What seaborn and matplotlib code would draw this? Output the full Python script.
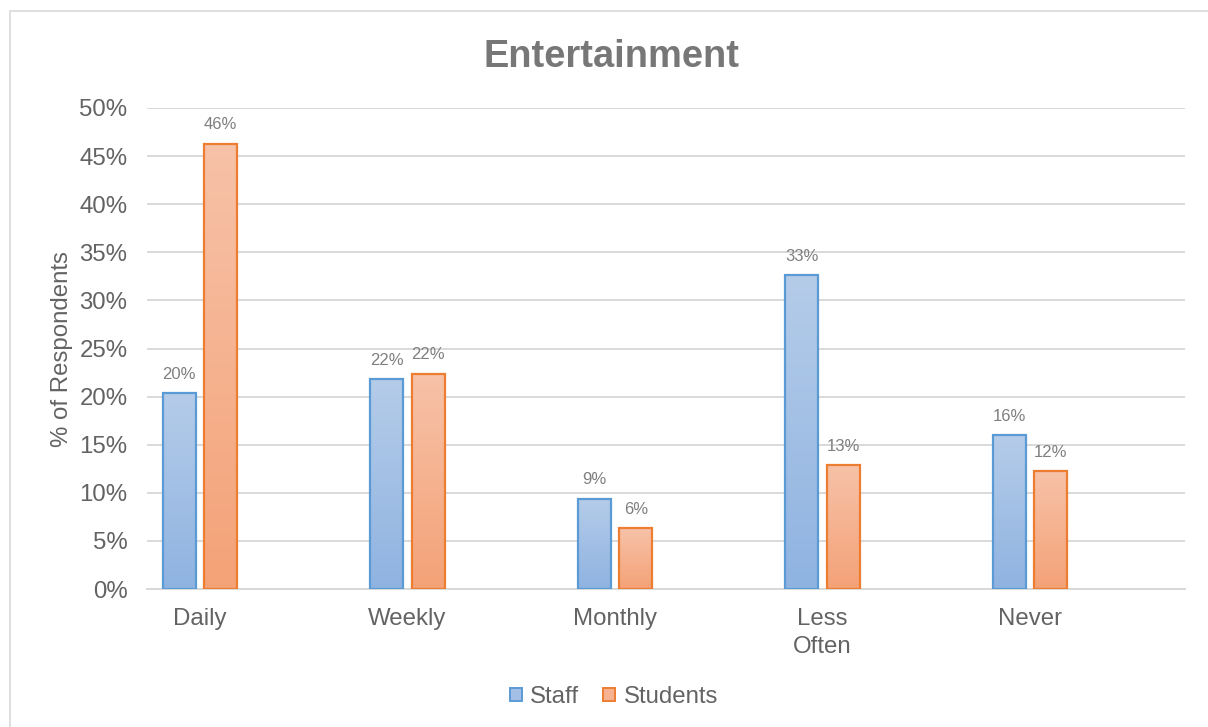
import numpy as np
import pandas as pd
import matplotlib
matplotlib.use("Agg")
import matplotlib.pyplot as plt
import seaborn as sns
from matplotlib.colors import LinearSegmentedColormap
from matplotlib.patches import Rectangle, Patch
from matplotlib.ticker import FuncFormatter, MultipleLocator

# ---- data ----
categories = ["Daily", "Weekly", "Monthly", "Less\nOften", "Never"]
groups = ["Staff", "Students"]
staff_pct = [20.4, 21.8, 9.4, 32.6, 16.0]
students_pct = [46.3, 22.4, 6.3, 12.9, 12.3]

df = pd.DataFrame({
    "Frequency": categories * 2,
    "Group": ["Staff"] * len(categories) + ["Students"] * len(categories),
    "Percent": staff_pct + students_pct,
})

# ---- style ----
sns.set_theme(style="white")
plt.rcParams["font.family"] = ["Liberation Sans", "DejaVu Sans"]
title_gray = "#777777"
text_gray = "#636363"
label_gray = "#7f7f7f"
grid_gray = "#d9d9d9"

edge_colors = {"Staff": "#5b9bd5", "Students": "#ed7d31"}
grad_colors = {
    "Staff": ("#b5cce9", "#8fb3e1"),      # (top, bottom)
    "Students": ("#f7c2a8", "#f4a277"),
}
mid_colors = {"Staff": "#a3bfe6", "Students": "#f6b291"}

fig = plt.figure(figsize=(12.08, 7.27), dpi=100)
ax = fig.add_axes([147 / 1208, 1 - 589 / 727, (1185 - 147) / 1208, (589 - 108) / 727])

sns.barplot(
    data=df, x="Frequency", y="Percent", hue="Group", order=categories,
    hue_order=groups, palette=mid_colors, width=0.4, gap=0.2,
    legend=False, ax=ax, zorder=3,
)

XLIM = (-0.255, 4.747)
YLIM = (0, 50)

# vertical gradient fill clipped to each bar, with a crisp outline on top
for grp, container in zip(groups, ax.containers):
    top_c, bot_c = grad_colors[grp]
    cmap = LinearSegmentedColormap.from_list(grp, [bot_c, top_c])
    grad = np.linspace(0, 1, 256).reshape(-1, 1)
    for bar in container:
        x0, y0 = bar.get_x(), bar.get_y()
        w, h = bar.get_width(), bar.get_height()
        im = ax.imshow(grad, extent=[x0, x0 + w, y0, y0 + h], origin="lower",
                       aspect="auto", cmap=cmap, zorder=3)
        im.set_clip_path(bar)
        bar.set_facecolor("none")
        bar.set_edgecolor(edge_colors[grp])
        bar.set_linewidth(1.6)
        bar.set_zorder(4)
    ax.bar_label(container, labels=[f"{b.get_height():.0f}%" for b in container],
                 padding=8, fontsize=12, color=label_gray)

ax.set_xlim(*XLIM)
ax.set_ylim(*YLIM)

# axes styling
ax.yaxis.set_major_locator(MultipleLocator(5))
ax.yaxis.set_major_formatter(FuncFormatter(lambda v, _: f"{v:.0f}%"))
ax.grid(axis="y", color=grid_gray, linewidth=1.4, zorder=0)
ax.set_axisbelow(True)
for side in ["top", "right", "left"]:
    ax.spines[side].set_visible(False)
ax.spines["bottom"].set_color(grid_gray)
ax.spines["bottom"].set_linewidth(1.4)
ax.tick_params(axis="y", length=0, pad=14, labelsize=17.3, labelcolor=text_gray)
ax.tick_params(axis="x", length=0, pad=14, labelsize=17.3, labelcolor=text_gray)
for t in ax.get_xticklabels():
    t.set_linespacing(1.35)
ax.set_xlabel("")
ax.set_ylabel("")

# title, axis label, legend
fig.text(612 / 1208, 1 - 57 / 727, "Entertainment", ha="center", va="center",
         fontsize=27.4, fontweight="bold", color=title_gray)
fig.text(62 / 1208, 1 - 349 / 727, "% of Respondents", ha="center", va="center",
         rotation=90, fontsize=17.3, color=text_gray)

handles = [Patch(facecolor=mid_colors[g], edgecolor=edge_colors[g], linewidth=1.4, label=g)
           for g in groups]
fig.legend(handles=handles, loc="center", bbox_to_anchor=(614 / 1208, 1 - 697 / 727),
           ncol=2, frameon=False, fontsize=17.3, handlelength=0.5, handleheight=0.5,
           handletextpad=0.35, columnspacing=1.0, labelcolor=text_gray)

# chart-area frame
fig.patches.append(Rectangle((10 / 1208, -0.1), 1.2, 1.1 - 11 / 727,
                             transform=fig.transFigure, fill=False,
                             edgecolor=grid_gray, linewidth=1.2))

fig.savefig("out.png", dpi=100)
